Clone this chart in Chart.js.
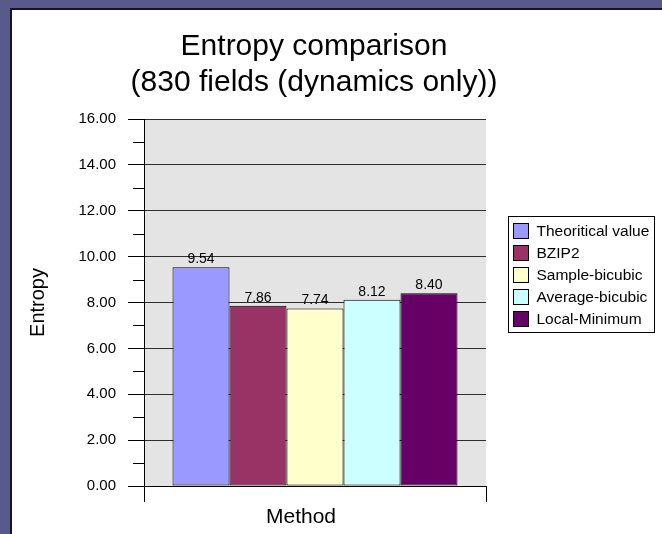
<!DOCTYPE html>
<html>
<head>
<meta charset="utf-8">
<script src="https://cdn.jsdelivr.net/npm/chart.js@4/dist/chart.umd.min.js"></script>
<style>
  html, body { margin: 0; padding: 0; width: 662px; height: 534px; overflow: hidden; background: #5a598c; }
  #frame { position: absolute; left: 10px; top: 8px; width: 652px; height: 526px; background: #ffffff;
           border-left: 2px solid #15152a; border-top: 2px solid #15152a; box-sizing: border-box; }
  #wrap { position: absolute; left: 0; top: 0; width: 662px; height: 534px; }
</style>
</head>
<body>
<div id="frame"></div>
<div id="wrap"><canvas id="c" width="662" height="534"></canvas></div>
<script>
// Entropy of each coding method (830 fields, dynamics only)
const categories = [''];
const methods = ['Theoritical value', 'BZIP2', 'Sample-bicubic', 'Average-bicubic', 'Local-Minimum'];
const entropyValues = [9.54, 7.86, 7.74, 8.12, 8.40];
const methodColors = ['#9999FF', '#993366', '#FFFFCC', '#CCFFFF', '#660066'];
const yMin = 0, yMax = 16, yStep = 2;
const xAxisTitle = 'Method';

const FONT = 'Arial, "Liberation Sans", sans-serif';

// gray plot background behind the grid
const plotBackground = {
  id: 'plotBackground',
  beforeDraw(chart) {
    const { ctx, chartArea: a } = chart;
    ctx.save();
    ctx.fillStyle = '#E4E4E4';
    ctx.fillRect(a.left, a.top, a.right - a.left, a.bottom - a.top);
    ctx.restore();
  }
};

// short minor ticks halfway between the major y ticks
const minorTicks = {
  id: 'minorTicks',
  afterDraw(chart) {
    const { ctx, chartArea: a } = chart;
    const y = chart.scales.y;
    ctx.save();
    ctx.strokeStyle = '#000';
    ctx.lineWidth = 1;
    for (let i = 0; i < y.ticks.length - 1; i++) {
      const v = (y.ticks[i].value + y.ticks[i + 1].value) / 2;
      const py = Math.round(y.getPixelForValue(v)) + 0.5;
      ctx.beginPath();
      ctx.moveTo(a.left - 11, py);
      ctx.lineTo(a.left, py);
      ctx.stroke();
    }
    ctx.restore();
  }
};

// value printed above each bar
const valueLabels = {
  id: 'valueLabels',
  afterDatasetsDraw(chart) {
    const { ctx } = chart;
    ctx.save();
    ctx.font = '14px ' + FONT;
    ctx.fillStyle = '#000';
    ctx.textAlign = 'center';
    ctx.textBaseline = 'bottom';
    chart.data.datasets.forEach((ds, i) => {
      chart.getDatasetMeta(i).data.forEach((bar, j) => {
        ctx.fillText(ds.data[j].toFixed(2), bar.x, bar.y - 1);
      });
    });
    ctx.restore();
  }
};

// category axis title, set a little left of the plot centre
const xTitle = {
  id: 'xTitle',
  afterDraw(chart) {
    const { ctx, chartArea: a } = chart;
    ctx.save();
    ctx.font = '21px ' + FONT;
    ctx.fillStyle = '#000';
    ctx.textAlign = 'center';
    ctx.textBaseline = 'middle';
    ctx.fillText(xAxisTitle, (a.left + a.right) / 2 - 14, a.bottom + 31);
    ctx.restore();
  }
};

// framed legend on the right
const boxLegend = {
  id: 'boxLegend',
  afterDraw(chart) {
    const { ctx, chartArea: a } = chart;
    const sw = 15, rowH = 22, padX = 5, gap = 8;
    ctx.save();
    ctx.font = '15.5px ' + FONT;
    const labels = chart.data.datasets.map(d => d.label);
    const textW = Math.max(...labels.map(t => ctx.measureText(t).width));
    const w = Math.round(padX + sw + gap + textW + 5);
    const h = Math.round(rowH * labels.length + 6);
    const x0 = Math.round(a.right + 22) + 0.5;
    const y0 = 216.5;
    ctx.fillStyle = '#fff';
    ctx.fillRect(x0, y0, w, h);
    ctx.strokeStyle = '#000';
    ctx.lineWidth = 1;
    ctx.strokeRect(x0, y0, w, h);
    ctx.textBaseline = 'middle';
    ctx.textAlign = 'left';
    chart.data.datasets.forEach((ds, i) => {
      const cy = y0 + 3 + rowH * i + rowH / 2;
      const sx = x0 + padX, sy = Math.round(cy - sw / 2) + 0.5;
      ctx.fillStyle = ds.backgroundColor;
      ctx.fillRect(sx, sy, sw, sw);
      ctx.strokeStyle = '#000';
      ctx.strokeRect(sx, sy, sw, sw);
      ctx.fillStyle = '#000';
      ctx.fillText(ds.label, sx + sw + gap, cy + 1);
    });
    ctx.restore();
  }
};

new Chart(document.getElementById('c'), {
  type: 'bar',
  data: {
    labels: categories,
    datasets: methods.map((m, i) => ({
      label: m,
      data: [entropyValues[i]],
      backgroundColor: methodColors[i],
      borderColor: '#000',
      borderWidth: 1,
      borderSkipped: false
    }))
  },
  options: {
    responsive: false,
    animation: false,
    devicePixelRatio: 1,
    datasets: { bar: { categoryPercentage: 0.8333, barPercentage: 1 } },
    layout: { padding: { left: 0, right: 34, top: 0, bottom: 0 } },
    plugins: {
      legend: { display: false },
      tooltip: { enabled: false },
      title: {
        display: true,
        text: ['Entropy comparison', '(830 fields (dynamics only))'],
        color: '#000',
        font: { family: FONT, size: 30, weight: 'normal', lineHeight: 1.2 },
        padding: { top: 29, bottom: 18 }
      }
    },
    scales: {
      x: {
        grid: { offset: true, drawOnChartArea: false, tickLength: 16, color: '#000' },
        border: { color: '#000', width: 1 },
        ticks: { display: false },
        afterFit(s) { s.height = 48; }
      },
      y: {
        min: yMin, max: yMax,
        ticks: { stepSize: yStep, color: '#000', font: { family: FONT, size: 15 }, padding: 12,
                 callback: v => v.toFixed(2) },
        grid: { color: '#2e2e2e', tickColor: '#000', tickLength: 16 },
        border: { color: '#000', width: 1 },
        title: { display: true, text: 'Entropy', color: '#000',
                 font: { family: FONT, size: 20 }, padding: { top: 26, bottom: 0 } },
        afterFit(s) { s.width = 144; }
      },
      legendSpace: {
        type: 'linear', position: 'right', display: true,
        grid: { display: false }, border: { display: false }, ticks: { display: false },
        afterFit(s) { s.width = 142; }
      }
    }
  },
  plugins: [plotBackground, minorTicks, valueLabels, xTitle, boxLegend]
});
</script>
</body>
</html>
